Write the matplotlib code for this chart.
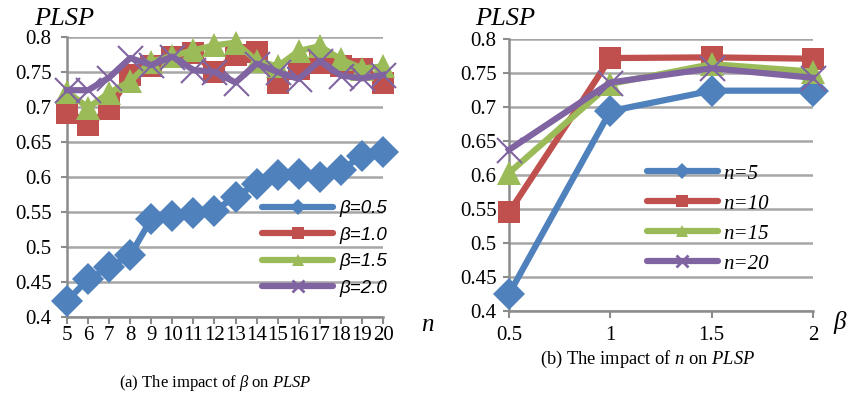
import numpy as np
import matplotlib
matplotlib.use("Agg")
import matplotlib.pyplot as plt
from matplotlib.lines import Line2D

plt.rcParams['font.family'] = ['Liberation Serif', 'DejaVu Serif']
plt.rcParams['mathtext.fontset'] = 'custom'
plt.rcParams['mathtext.rm'] = 'Liberation Serif'
plt.rcParams['mathtext.it'] = 'Liberation Serif:italic'

# (a) PLSP against n for four beta values
n_vals = list(range(5, 21))
beta05 = [0.423, 0.454, 0.471, 0.488, 0.540, 0.544, 0.548, 0.552, 0.572, 0.590, 0.603, 0.605, 0.600, 0.610, 0.630, 0.636]
beta10 = [0.692, 0.674, 0.697, 0.746, 0.758, 0.772, 0.777, 0.750, 0.775, 0.779, 0.735, 0.754, 0.763, 0.758, 0.755, 0.735]
beta15 = [0.722, 0.699, 0.720, 0.737, 0.765, 0.773, 0.781, 0.788, 0.792, 0.766, 0.758, 0.780, 0.787, 0.768, 0.755, 0.758]
beta20 = [0.724, 0.724, 0.742, 0.770, 0.760, 0.772, 0.753, 0.750, 0.735, 0.762, 0.750, 0.740, 0.766, 0.745, 0.741, 0.746]
labels_a = ["β=0.5", "β=1.0", "β=1.5", "β=2.0"]

# (b) PLSP against beta for four n values
betas = [0.5, 1, 1.5, 2]
n5 = [0.425, 0.694, 0.724, 0.724]
n10 = [0.545, 0.772, 0.773, 0.771]
n15 = [0.603, 0.734, 0.763, 0.752]
n20 = [0.637, 0.736, 0.757, 0.743]
labels_b = ["n=5", "n=10", "n=15", "n=20"]

yticks = [0.4, 0.45, 0.5, 0.55, 0.6, 0.65, 0.7, 0.75, 0.8]

colors = ['#4F81BD', '#C0504D', '#9BBB59', '#8064A2']
markers = ['D', 's', '^', 'x']
msizes = [16, 16, 17, 18]
gray = '#8C8C8C'

fig = plt.figure(figsize=(8.61, 4.04), dpi=100)
W, H = 861.0, 404.0
axa = fig.add_axes([67/W, 1-317/H, 316/W, 280/H])
axb = fig.add_axes([509/W, 1-311/H, 304/W, 272/H])


def style(ax):
    ax.set_ylim(0.4, 0.8)
    ax.set_yticks(yticks)
    ax.set_yticklabels(['%g' % t for t in yticks])
    ax.yaxis.grid(True, color='#A6A6A6', lw=1.8)
    ax.set_axisbelow(True)
    for s in ['top', 'right']:
        ax.spines[s].set_visible(False)
    for s in ['left', 'bottom']:
        ax.spines[s].set_color(gray)
        ax.spines[s].set_linewidth(1.8)
    ax.tick_params(axis='both', colors=gray, width=1.5, length=5, labelsize=15, labelcolor='black')
    ax.tick_params(axis='y', length=4, pad=7)


series_a = [beta05, beta10, beta15, beta20]
for i, ys in enumerate(series_a):
    axa.plot(n_vals, ys, color=colors[i], lw=4.5, marker=markers[i], ms=msizes[i],
             mew=1.5 if markers[i] == 'x' else 0, clip_on=False, zorder=3 + i)
style(axa)
axa.set_xlim(5, 20)
axa.set_xticks(n_vals)
axa.set_xticklabels([str(v) for v in n_vals])
axa.tick_params(axis='x', pad=1.5)

series_b = [n5, n10, n15, n20]
for i, ys in enumerate(series_b):
    axb.plot(betas, ys, color=colors[i], lw=4.5, marker=markers[i], ms=msizes[i],
             mew=1.5 if markers[i] == 'x' else 0, clip_on=False, zorder=3 + i)
style(axb)
axb.tick_params(axis='y', pad=5)
axb.set_xlim(0.5, 2)
axb.set_xticks(betas)
axb.set_xticklabels(['%g' % b for b in betas])
axb.tick_params(axis='x', pad=6)


def handles(lbls):
    hs = []
    for i in range(4):
        hs.append(Line2D([0], [0], color=colors[i], lw=4.5, marker=markers[i], ms=8,
                         mew=2 if markers[i] == 'x' else 0, solid_capstyle='round', label=lbls[i]))
    return hs


fig.legend(handles=handles(labels_a), loc='upper left', bbox_to_anchor=(262/W, 1-200/H),
           frameon=False, borderpad=0, borderaxespad=0, handlelength=3.8, handletextpad=0.35,
           labelspacing=0.5, prop={'family': 'Liberation Sans', 'style': 'italic', 'size': 13.5})
fig.legend(handles=handles(labels_b), loc='upper left', bbox_to_anchor=(647/W, 1-164/H),
           frameon=False, borderpad=0, borderaxespad=0, handlelength=3.4, handletextpad=0.25,
           labelspacing=0.5, prop={'family': 'Liberation Serif', 'style': 'italic', 'size': 15})

fig.text(34/W, 1-19/H, "PLSP", style='italic', fontsize=19, va='center', ha='left')
fig.text(475/W, 1-19/H, "PLSP", style='italic', fontsize=19, va='center', ha='left')
fig.text(427/W, 1-325/H, "n", style='italic', fontsize=18, va='center', ha='center')
fig.text(840/W, 1-322/H, "β", style='italic', fontsize=18, va='center', ha='center')

fig.text(215/W, 1-383/H, r"(a) The impact of $\beta$ on $PLSP$", fontsize=12, ha='center', va='center')
fig.text(648/W, 1-359/H, r"(b) The impact of $n$ on $PLSP$", fontsize=13.3, ha='center', va='center')

fig.savefig("out.png", dpi=100)
